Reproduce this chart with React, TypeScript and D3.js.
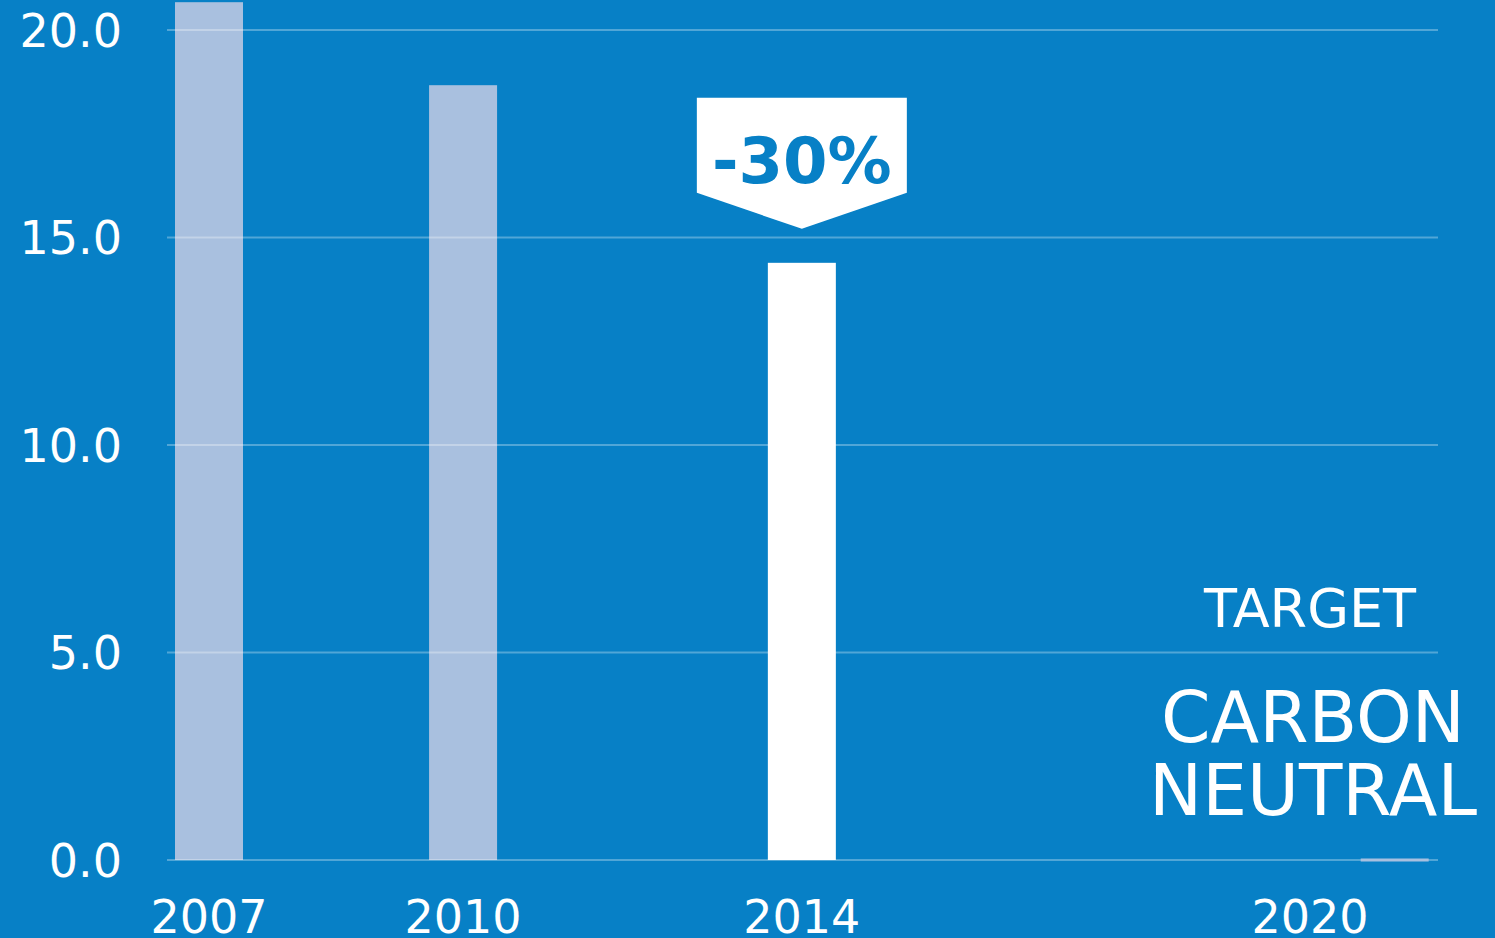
import React from "react";
import * as d3 from "d3";

const years = [2007, 2010, 2014];
const values = [20.67, 18.67, 14.39];
const barKinds = ["past", "past", "current"];
const yTicks = [0, 5, 10, 15, 20];
const xLabels = [2007, 2010, 2014, 2020];
const targetYear = 2020;
const targetValue = 0;
const calloutText = "-30%";
const targetLines = ["TARGET", "CARBON", "NEUTRAL"];

const W = 1495;
const H = 938;
const BG = "#0780c6";
const PAST = "#a9c0df";
const FONT = "'DejaVu Sans', sans-serif";

export default function App() {
  const x = d3.scaleLinear().domain([2007, 2020]).range([209, 1310]);
  const y = d3.scaleLinear().domain([0, 20]).range([860, 30]);
  const barW = 68;
  const step = x(2008) - x(2007);
  const gridX0 = 167;
  const gridX1 = 1438;

  const cx = x(2014);
  const topOfBar = y(values[2]);
  const tipY = topOfBar - 34;
  const boxTop = tipY - 131;
  const boxBottom = tipY - 36;
  const half = 105;
  const calloutPath = d3.path();
  calloutPath.moveTo(cx - half, boxTop);
  calloutPath.lineTo(cx + half, boxTop);
  calloutPath.lineTo(cx + half, boxBottom);
  calloutPath.lineTo(cx, tipY);
  calloutPath.lineTo(cx - half, boxBottom);
  calloutPath.closePath();

  const tx = x(targetYear) + step;

  return (
    <svg
      width={W}
      height={H}
      style={{ position: "absolute", left: 0, top: 0, display: "block" }}
    >
      <rect x={0} y={0} width={W} height={H} fill={BG} />
      {years.map((yr, i) => (
        <rect
          key={yr}
          x={x(yr) - barW / 2}
          y={y(values[i])}
          width={barW}
          height={y(0) - y(values[i])}
          fill={barKinds[i] === "past" ? PAST : "#ffffff"}
        />
      ))}
      {yTicks.map((t) => (
        <line
          key={t}
          x1={gridX0}
          x2={gridX1}
          y1={y(t)}
          y2={y(t)}
          stroke="#ffffff"
          strokeOpacity={0.3}
          strokeWidth={2}
        />
      ))}
      <line
        x1={tx - barW / 2}
        x2={tx + barW / 2}
        y1={y(targetValue)}
        y2={y(targetValue)}
        stroke={PAST}
        strokeWidth={3}
      />
      {yTicks.map((t) => (
        <text
          key={t}
          x={122}
          y={y(t)}
          dy="0.36em"
          textAnchor="end"
          fill="#ffffff"
          fontFamily={FONT}
          fontSize={46}
        >
          {d3.format(".1f")(t)}
        </text>
      ))}
      {xLabels.map((yr) => (
        <text
          key={yr}
          x={x(yr)}
          y={933}
          textAnchor="middle"
          fill="#ffffff"
          fontFamily={FONT}
          fontSize={46}
        >
          {yr}
        </text>
      ))}
      <path d={calloutPath.toString()} fill="#ffffff" />
      <text
        x={cx}
        y={boxTop + 85}
        textAnchor="middle"
        fill={BG}
        fontFamily={FONT}
        fontWeight="bold"
        fontSize={64}
      >
        {calloutText}
      </text>
      <text
        x={x(targetYear)}
        y={627}
        textAnchor="middle"
        fill="#ffffff"
        fontFamily={FONT}
        fontSize={54}
      >
        {targetLines[0]}
      </text>
      <text
        x={x(targetYear) + 3}
        y={742}
        textAnchor="middle"
        fill="#ffffff"
        fontFamily={FONT}
        fontSize={71}
      >
        {targetLines[1]}
      </text>
      <text
        x={x(targetYear) + 3}
        y={815}
        textAnchor="middle"
        fill="#ffffff"
        fontFamily={FONT}
        fontSize={71}
      >
        {targetLines[2]}
      </text>
    </svg>
  );
}
